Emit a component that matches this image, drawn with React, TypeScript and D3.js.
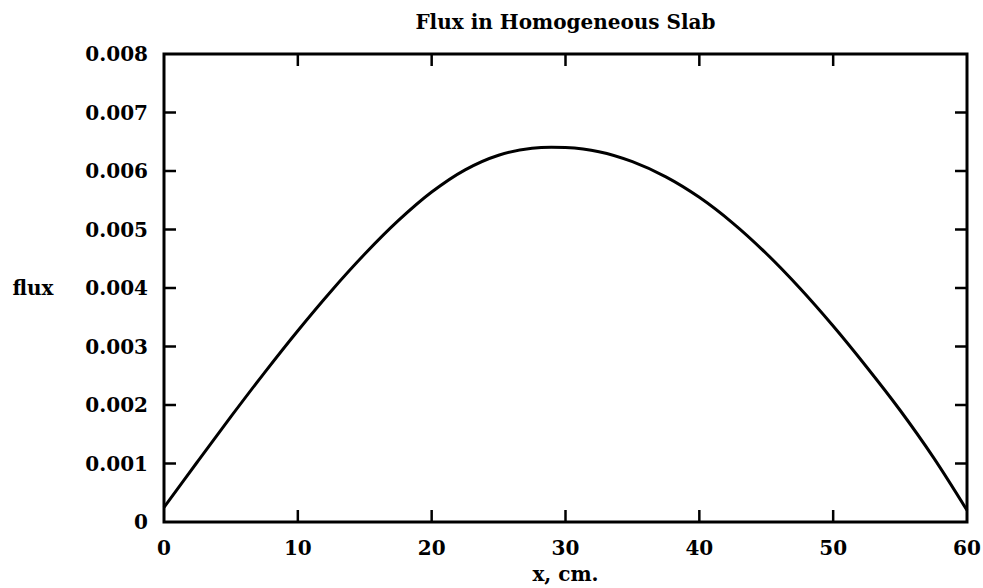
import React from "react";
import * as d3 from "d3";

const xValues = [0, 2.5, 5, 7.5, 10, 12.5, 15, 17.5, 20, 22.5, 25, 27.5, 30, 32.5, 35, 37.5, 40, 42.5, 45, 47.5, 50, 52.5, 55, 57.5, 60];
const fluxValues = [0.00025, 0.00103, 0.0018, 0.00255, 0.00327, 0.00395, 0.00458, 0.00515, 0.00564, 0.00602, 0.00627, 0.00639, 0.0064, 0.00633, 0.00616, 0.0059, 0.00555, 0.00511, 0.00459, 0.004, 0.00335, 0.00265, 0.00191, 0.0011, 0.0002];
const xTicks = [0, 10, 20, 30, 40, 50, 60];
const yTicks = [0, 0.001, 0.002, 0.003, 0.004, 0.005, 0.006, 0.007, 0.008];
const yTickLabels = ["0", "0.001", "0.002", "0.003", "0.004", "0.005", "0.006", "0.007", "0.008"];
const title = "Flux in Homogeneous Slab";
const xTitle = "x, cm.";
const yTitle = "flux";

const W = 983;
const H = 588;
const left = 164;
const right = 967;
const top = 54;
const bottom = 522;
const font = "'DejaVu Serif', serif";

export default function App() {
  const x = d3.scaleLinear().domain([0, 60]).range([left, right]);
  const y = d3.scaleLinear().domain([0, 0.008]).range([bottom, top]);
  const line = d3
    .line<number>()
    .x((_, i) => x(xValues[i]))
    .y((d) => y(d))
    .curve(d3.curveCatmullRom);
  const tick = 12;
  return (
    <svg width={W} height={H} style={{ position: "absolute", left: 0, top: 0 }} fontFamily={font} fontWeight="bold">
      <rect x={0} y={0} width={W} height={H} fill="#fff" />
      <text x={(left + right) / 2} y={29} textAnchor="middle" fontSize={20}>{title}</text>
      <rect x={left} y={top} width={right - left} height={bottom - top} fill="none" stroke="#000" strokeWidth={3} />
      {xTicks.slice(1, -1).map((t) => (
        <g key={"xt" + t}>
          <line x1={x(t)} x2={x(t)} y1={bottom} y2={bottom - tick} stroke="#000" strokeWidth={2.5} />
          <line x1={x(t)} x2={x(t)} y1={top} y2={top + tick} stroke="#000" strokeWidth={2.5} />
        </g>
      ))}
      {yTicks.slice(1, -1).map((t) => (
        <g key={"yt" + t}>
          <line x1={left} x2={left + tick} y1={y(t)} y2={y(t)} stroke="#000" strokeWidth={2.5} />
          <line x1={right} x2={right - tick} y1={y(t)} y2={y(t)} stroke="#000" strokeWidth={2.5} />
        </g>
      ))}
      {xTicks.map((t) => (
        <text key={"xl" + t} x={x(t)} y={555} textAnchor="middle" fontSize={20}>{t}</text>
      ))}
      {yTicks.map((t, i) => (
        <text key={"yl" + t} x={148} y={y(t)} dy="0.35em" textAnchor="end" fontSize={20}>{yTickLabels[i]}</text>
      ))}
      <text x={(left + right) / 2} y={581} textAnchor="middle" fontSize={20}>{xTitle}</text>
      <text x={33} y={(top + bottom) / 2} dy="0.35em" textAnchor="middle" fontSize={20}>{yTitle}</text>
      <path d={line(fluxValues) || ""} fill="none" stroke="#000" strokeWidth={3} />
    </svg>
  );
}
